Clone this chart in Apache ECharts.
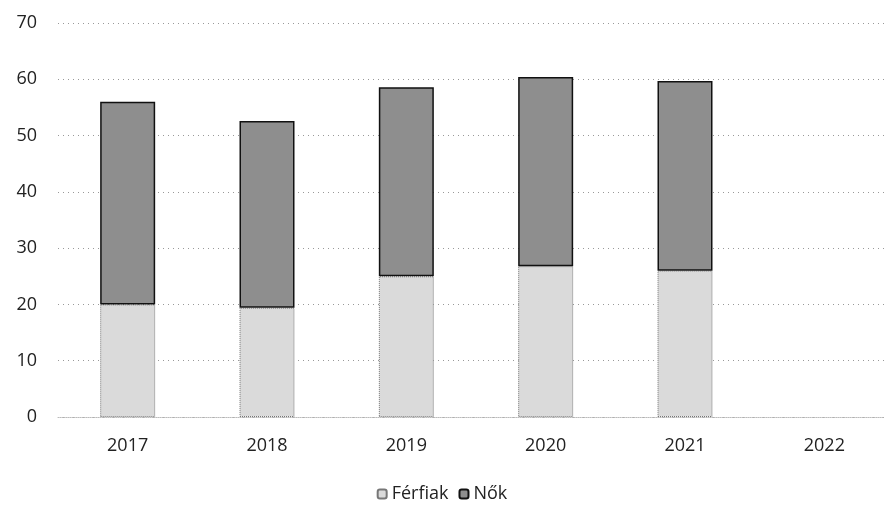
<!DOCTYPE html>
<html>
<head>
<meta charset="utf-8">
<script src="https://cdn.jsdelivr.net/npm/echarts@6/dist/echarts.min.js"></script>
<style>
  html, body { margin: 0; padding: 0; background: #fff; }
  #chart { width: 884px; height: 508px; }
</style>
</head>
<body>
<div id="chart"></div>
<script>
var years = ["2017", "2018", "2019", "2020", "2021", "2022"];
var ferfiak = [20, 19.4, 25, 26.8, 26, null];
var nok = [36, 33.2, 33.6, 33.6, 33.7, null];
var yTicks = [0, 10, 20, 30, 40, 50, 60, 70];

var chart = echarts.init(document.getElementById("chart"));
var option = {
    backgroundColor: "#fff",
    textStyle: {fontFamily: "Open Sans"},
    grid: {
        left: 58,
        top: 23,
        width: 836,
        height: 394,
        outerBoundsMode: "none"
    },
    legend: {
        bottom: 0,
        left: "center",
        itemWidth: 9,
        itemHeight: 9,
        itemGap: 10,
        textStyle: {fontSize: 18, color: "#222", fontFamily: "Open Sans"},
        data: ["Férfiak", "Nők"]
    },
    xAxis: {
        type: "category",
        data: years,
        axisLine: {lineStyle: {color: "#bbb", type: "dotted"}},
        axisTick: {show: false},
        axisLabel: {fontSize: 18, color: "#222", margin: 20}
    },
    yAxis: {
        type: "value",
        min: yTicks[0],
        max: yTicks[yTicks.length - 1],
        interval: 10,
        axisLine: {show: false},
        axisTick: {show: false},
        axisLabel: {fontSize: 18, color: "#222", margin: 21},
        splitLine: {lineStyle: {color: "#999", type: [1, 4], width: 1}}
    },
    series: [
        {
            name: "Férfiak",
            type: "bar",
            stack: "total",
            barWidth: 55,
            data: ferfiak,
            itemStyle: {color: "#dadada", borderColor: "#777", borderWidth: 1, borderType: "dotted"}
        },
        {
            name: "Nők",
            type: "bar",
            stack: "total",
            barWidth: 55,
            data: nok,
            itemStyle: {color: "#8e8e8e", borderColor: "#111", borderWidth: 1.5}
        }
    ]
};
chart.setOption(option);
</script>
</body>
</html>
